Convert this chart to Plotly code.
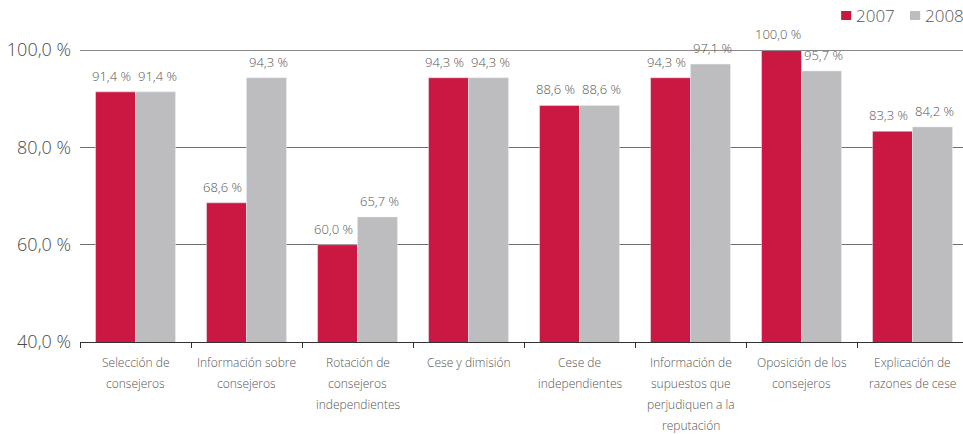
import plotly.graph_objects as go

categories = [
    "Selección de<br>consejeros",
    "Información sobre<br>consejeros",
    "Rotación de<br>consejeros<br>independientes",
    "Cese y dimisión",
    "Cese de<br>independientes",
    "Información de<br>supuestos que<br>perjudiquen a la<br>reputación",
    "Oposición de los<br>consejeros",
    "Explicación de<br>razones de cese",
]
series_names = ["2007", "2008"]
values_2007 = [91.4, 68.6, 60.0, 94.3, 88.6, 94.3, 100.0, 83.3]
values_2008 = [91.4, 94.3, 65.7, 94.3, 88.6, 97.1, 95.7, 84.2]
y_ticks = [40, 60, 80, 100]
y_tick_labels = ["40,0 %", "60,0 %", "80,0 %", "100,0 %"]

RED = "#CB1843"
GREY = "#BDBDC0"
TEXT = "#555555"
FONT = "Open Sans"
WEIGHT = 300


def pct(v):
    return f"{v:.1f} %".replace(".", ",")


positions = list(range(len(categories)))
bar_w = 0.36

fig = go.Figure()
for name, vals, color, off in [
    (series_names[0], values_2007, RED, -bar_w),
    (series_names[1], values_2008, GREY, 0.0),
]:
    fig.add_trace(go.Bar(
        x=positions, y=vals, name=name, marker_color=color,
        width=bar_w, offset=off, showlegend=False, cliponaxis=False,
    ))

annotations = []
# value labels above each bar, nudged apart so neighbours do not touch
for vals, shift, nudge in [(values_2007, -bar_w / 2, -4), (values_2008, bar_w / 2, 2)]:
    for p, v in zip(positions, vals):
        annotations.append(dict(
            x=p + shift, y=v, xref="x", yref="y", text=pct(v),
            showarrow=False, yanchor="bottom", yshift=5, xshift=nudge,
            font=dict(family=FONT, size=13, color=TEXT, weight=WEIGHT),
        ))

# category labels, one annotation per line for wider line spacing
for p, label in zip(positions, categories):
    for k, line in enumerate(label.split("<br>")):
        annotations.append(dict(
            x=p, y=40, xref="x", yref="y", text=line, showarrow=False,
            yanchor="top", yshift=-10 - 21 * k,
            font=dict(family=FONT, size=12, color=TEXT, weight=WEIGHT),
        ))

# legend drawn as swatches plus text
shapes = []
legend_items = [(series_names[0], RED, 0.862), (series_names[1], GREY, 0.940)]
for name, color, x0 in legend_items:
    shapes.append(dict(type="rect", xref="paper", yref="paper",
                       x0=x0, x1=x0 + 0.0115, y0=1.1027, y1=1.1336,
                       fillcolor=color, line=dict(width=0)))
    annotations.append(dict(
        x=x0 + 0.0145, y=1.118, xref="paper", yref="paper", text=name,
        showarrow=False, xanchor="left", yanchor="middle",
        font=dict(family=FONT, size=17, color=TEXT, weight=WEIGHT),
    ))

# top reference line at 100
shapes.append(dict(type="line", xref="paper", yref="y", x0=0, x1=1,
                   y0=100, y1=100, line=dict(color="#8a8a8a", width=2),
                   layer="above"))

fig.update_layout(
    width=963, height=434, autosize=False,
    margin=dict(l=80, r=0, t=50, b=92),
    paper_bgcolor="white", plot_bgcolor="white",
    font=dict(family=FONT, color=TEXT),
    annotations=annotations, shapes=shapes,
    xaxis=dict(
        range=[-0.5, 7.455], showgrid=False, zeroline=False,
        showline=True, linecolor="#333333", linewidth=1,
        tickmode="array", tickvals=[p - 0.5 for p in positions] + [positions[-1] + 0.5],
        ticks="outside", ticklen=5, tickcolor="#333333", showticklabels=False,
    ),
    yaxis=dict(
        range=[40, 100], tickmode="array", tickvals=y_ticks, ticktext=y_tick_labels,
        showgrid=True, gridcolor="#6f6f6f", gridwidth=1, zeroline=False,
        showline=False, ticks="", ticklabelstandoff=8,
        tickfont=dict(family=FONT, size=18, color="#4a4a4a", weight=WEIGHT),
    ),
)

fig.write_html("out.html")
